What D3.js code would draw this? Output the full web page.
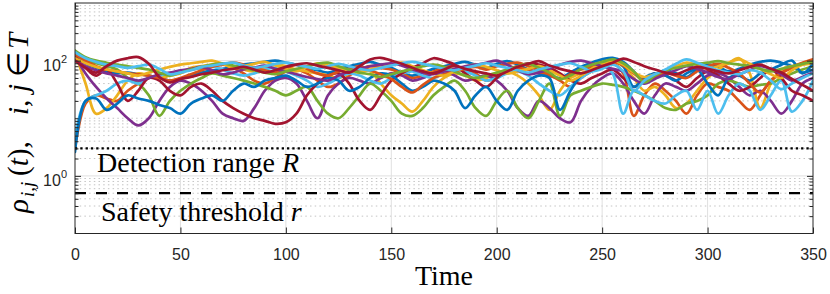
<!DOCTYPE html>
<html>
<head>
<meta charset="utf-8">
<script src="https://cdn.jsdelivr.net/npm/d3@7"></script>
<style>
  body { margin: 0; background: #fff; }
  .tick text { font-family: "Liberation Sans", Arial, sans-serif; }
</style>
</head>
<body>
<svg id="chart" width="830" height="294"></svg>
<script>
// sample times
const time = [0, 5, 10, 15, 20, 25, 30, 35, 40, 45, 50, 55, 60, 65, 70, 75, 80, 85, 90, 95,
  100, 105, 110, 115, 120, 125, 130, 135, 140, 145, 150, 155, 160, 165, 170, 175, 180, 185, 190, 195,
  200, 205, 210, 215, 220, 225, 230, 235, 240, 245, 250, 255, 260, 265, 270, 275, 280, 285, 290, 295,
  300, 305, 310, 315, 320, 325, 330, 335, 340, 345, 350];

// pairwise distances (one array per curve)
const blue1 = [120, 90, 75, 65, 60, 62, 58, 55, 50, 45, 48, 55, 62, 68, 72, 78, 85, 90, 95, 100,
  92, 85, 75, 68, 62, 70, 80, 88, 95, 85, 75, 62, 55, 62, 72, 80, 88, 95, 85, 75,
  88, 98, 85, 70, 62, 55, 50, 62, 78, 92, 105, 112, 95, 65, 45, 55, 68, 60, 52, 70,
  85, 78, 65, 72, 85, 95, 100, 92, 80, 62, 70];
const orange1 = [3, 18, 25, 22, 20, 30, 40, 50, 55, 60, 65, 70, 75, 80, 85, 75, 60, 45, 40, 50,
  65, 70, 60, 45, 35, 40, 55, 70, 80, 75, 70, 60, 50, 55, 65, 75, 80, 70, 60, 45,
  50, 65, 75, 70, 60, 55, 45, 35, 50, 65, 80, 90, 60, 11, 25, 40, 30, 20, 12, 25,
  40, 35, 30, 20, 14, 25, 45, 60, 75, 90, 100];
const yellow1 = [140, 40, 12, 15, 25, 45, 60, 55, 50, 55, 60, 75, 80, 85, 90, 80, 70, 65, 75, 85,
  80, 70, 65, 60, 55, 50, 60, 70, 65, 40, 25, 18, 13, 20, 35, 50, 60, 55, 45, 50,
  60, 65, 55, 40, 25, 14, 30, 50, 60, 70, 85, 95, 80, 50, 30, 35, 25, 15, 18, 30,
  50, 70, 90, 110, 60, 15, 40, 70, 80, 85, 90];
const purple1 = [120, 60, 35, 22, 15, 10, 7.5, 10, 20, 35, 45, 40, 30, 20, 12, 10, 9, 15, 30, 45,
  50, 40, 20, 10, 25, 40, 50, 45, 40, 50, 60, 55, 45, 50, 60, 65, 55, 45, 50, 55,
  45, 30, 15, 11, 20, 15, 10, 8.5, 20, 35, 50, 60, 40, 20, 12, 25, 40, 35, 30, 40,
  55, 60, 50, 35, 25, 30, 20, 12, 20, 40, 50];
const green1 = [130, 100, 90, 80, 70, 50, 40, 25, 11, 20, 30, 40, 50, 60, 55, 50, 45, 40, 35, 30,
  25, 30, 35, 20, 12, 10, 15, 25, 40, 30, 20, 12, 11, 15, 25, 35, 45, 30, 15, 11,
  20, 30, 15, 10, 20, 40, 11, 25, 30, 35, 40, 38, 35, 30, 25, 20, 15, 14, 18, 20,
  25, 40, 45, 40, 35, 38, 40, 50, 60, 70, 80];
const cyan1 = [4.7, 20, 25, 30, 40, 45, 40, 50, 55, 60, 65, 70, 75, 80, 70, 60, 55, 60, 70, 75,
  65, 55, 45, 35, 40, 50, 60, 55, 45, 40, 50, 60, 65, 55, 50, 60, 70, 65, 55, 45,
  50, 60, 65, 55, 40, 30, 25, 35, 50, 65, 80, 60, 12, 30, 25, 20, 18, 25, 30, 14,
  30, 12, 25, 40, 30, 14, 25, 45, 13, 20, 45];
const red1 = [120, 75, 55, 70, 40, 20, 30, 50, 45, 30, 25, 35, 40, 30, 20, 15, 12, 10, 9, 8,
  8.5, 12, 25, 40, 55, 60, 40, 20, 14, 25, 45, 60, 75, 90, 110, 100, 85, 60, 45, 35,
  50, 70, 80, 90, 85, 75, 60, 45, 40, 50, 60, 70, 50, 35, 45, 60, 55, 45, 35, 50,
  65, 55, 40, 30, 35, 50, 70, 50, 30, 25, 20];
const blue2 = [2.6, 20, 22, 14, 18, 25, 22, 20, 17, 15, 12, 18, 22, 25, 20, 30, 40, 35, 45, 50,
  55, 45, 35, 40, 50, 45, 30, 35, 50, 60, 55, 40, 30, 35, 45, 40, 30, 15, 25, 35,
  20, 14, 30, 45, 55, 50, 14, 30, 55, 70, 85, 100, 80, 35, 50, 60, 55, 45, 60, 70,
  40, 25, 50, 55, 45, 60, 70, 85, 100, 60, 90];
const orange2 = [130, 100, 80, 70, 65, 60, 58, 55, 50, 45, 50, 58, 68, 78, 85, 92, 85, 75, 68, 62,
  72, 85, 72, 60, 55, 65, 72, 80, 68, 58, 48, 35, 28, 38, 50, 58, 65, 72, 78, 70,
  80, 88, 92, 80, 68, 58, 48, 58, 70, 78, 88, 95, 82, 60, 45, 50, 62, 55, 50, 65,
  80, 88, 75, 60, 40, 28, 45, 62, 78, 92, 105];
const yellow2 = [110, 90, 78, 70, 65, 60, 55, 62, 70, 78, 85, 90, 95, 100, 88, 75, 80, 88, 95, 82,
  72, 65, 78, 90, 82, 75, 68, 62, 70, 78, 85, 92, 80, 68, 60, 55, 65, 78, 85, 78,
  68, 60, 65, 72, 80, 68, 55, 45, 55, 72, 90, 100, 85, 62, 52, 58, 68, 80, 92, 85,
  72, 80, 92, 105, 88, 72, 58, 50, 68, 85, 92];
const purple2 = [100, 80, 68, 60, 55, 50, 45, 50, 58, 62, 68, 72, 78, 68, 58, 62, 70, 75, 82, 72,
  65, 58, 52, 48, 45, 55, 65, 72, 80, 85, 90, 82, 70, 62, 58, 65, 72, 80, 85, 92,
  100, 85, 68, 58, 62, 72, 85, 95, 100, 90, 80, 72, 65, 48, 40, 48, 58, 68, 80, 72,
  62, 52, 48, 58, 68, 80, 72, 58, 45, 52, 62];
const green2 = [150, 115, 100, 92, 85, 80, 75, 70, 62, 55, 62, 70, 78, 85, 90, 82, 75, 68, 62, 58,
  65, 72, 80, 88, 92, 80, 70, 62, 58, 52, 58, 65, 72, 80, 85, 78, 65, 55, 50, 55,
  62, 70, 80, 88, 75, 62, 48, 55, 72, 85, 95, 105, 90, 65, 42, 55, 68, 75, 82, 88,
  92, 98, 90, 85, 80, 72, 65, 72, 80, 88, 95];
const cyan2 = [140, 110, 95, 85, 80, 75, 80, 85, 72, 58, 62, 68, 78, 82, 88, 92, 82, 75, 80, 88,
  92, 85, 78, 72, 80, 88, 80, 72, 68, 75, 82, 90, 95, 88, 80, 72, 68, 75, 82, 90,
  82, 75, 68, 62, 70, 78, 85, 90, 78, 65, 72, 85, 65, 30, 45, 58, 70, 88, 105, 92,
  78, 68, 62, 58, 68, 62, 45, 32, 40, 50, 60];
const red2 = [100, 75, 62, 80, 100, 110, 115, 88, 52, 42, 48, 52, 58, 62, 68, 72, 78, 70, 62, 68,
  78, 85, 90, 82, 75, 68, 62, 80, 105, 112, 100, 88, 75, 65, 60, 70, 82, 72, 65, 60,
  55, 65, 78, 88, 98, 82, 72, 65, 60, 68, 80, 92, 108, 95, 80, 70, 62, 58, 68, 78,
  72, 65, 60, 68, 78, 85, 72, 62, 48, 38, 30];

const series = [blue1, orange1, yellow1, purple1, green1, cyan1, red1,
  blue2, orange2, yellow2, purple2, green2, cyan2, red2];
const colors = ['#0072BD', '#D95319', '#EDB120', '#7E2F8E', '#77AC30', '#4DBEEE', '#A2142F'];

const xTicks = [0, 50, 100, 150, 200, 250, 300, 350];
const yMajor = [1, 100];
const yExponents = ['0', '2'];
const detectionRange = 3;
const safetyThreshold = 0.5;

let svg = d3.select('#chart');
let plotLeft = 75, plotRight = 813, plotTop = 3, plotBottom = 233.5;

let x = d3.scaleLinear().domain([0, 350]).range([plotLeft, plotRight]);
let y = d3.scaleLog().domain([0.1, 1000]).range([plotBottom, plotTop]);
let yMinor = y.ticks().filter(function (d) { return yMajor.indexOf(d) < 0 && d > 0.1 && d < 1000; });

svg.append('defs').append('clipPath').attr('id', 'plot-clip')
  .append('rect')
  .attr('x', plotLeft).attr('y', plotTop)
  .attr('width', plotRight - plotLeft).attr('height', plotBottom - plotTop);

// grid
let grid = svg.append('g');
grid.selectAll('.minor')
  .data(yMinor)
  .enter().append('line')
  .attr('x1', plotLeft).attr('x2', plotRight)
  .attr('y1', y).attr('y2', y)
  .attr('stroke', '#c4c4c4')
  .attr('stroke-width', 1)
  .attr('stroke-dasharray', '1.5,3.2');
grid.selectAll('.major')
  .data(yMajor)
  .enter().append('line')
  .attr('x1', plotLeft).attr('x2', plotRight)
  .attr('y1', y).attr('y2', y)
  .attr('stroke', '#e0e0e0')
  .attr('stroke-width', 1);
grid.selectAll('.vert')
  .data(xTicks.slice(1, -1))
  .enter().append('line')
  .attr('x1', x).attr('x2', x)
  .attr('y1', plotTop).attr('y2', plotBottom)
  .attr('stroke', '#e0e0e0')
  .attr('stroke-width', 1);

// curves
let line = d3.line()
  .x(function (d, i) { return x(time[i]); })
  .y(function (d) { return y(d); })
  .curve(d3.curveCatmullRom.alpha(0.5));

svg.append('g')
  .attr('clip-path', 'url(#plot-clip)')
  .selectAll('path')
  .data(series)
  .enter().append('path')
  .attr('d', line)
  .attr('fill', 'none')
  .attr('stroke', function (d, i) { return colors[i % colors.length]; })
  .attr('stroke-width', 2.7)
  .attr('stroke-linejoin', 'round')
  .attr('stroke-linecap', 'round');

// detection range and safety threshold
svg.append('line')
  .attr('x1', plotLeft).attr('x2', plotRight)
  .attr('y1', y(detectionRange)).attr('y2', y(detectionRange))
  .attr('stroke', '#000')
  .attr('stroke-width', 2.3)
  .attr('stroke-dasharray', '2.3,3');
svg.append('line')
  .attr('x1', plotLeft).attr('x2', plotRight)
  .attr('y1', y(safetyThreshold)).attr('y2', y(safetyThreshold))
  .attr('stroke', '#000')
  .attr('stroke-width', 2.3)
  .attr('stroke-dasharray', '11,10');

let serif = '"Liberation Serif", "Times New Roman", serif';

let t1 = svg.append('text')
  .attr('x', 97).attr('y', 172)
  .attr('font-family', serif).attr('font-size', 28)
  .text('Detection range ');
t1.append('tspan').attr('font-style', 'italic').text('R');

let t2 = svg.append('text')
  .attr('x', 101).attr('y', 221)
  .attr('font-family', serif).attr('font-size', 28)
  .text('Safety threshold ');
t2.append('tspan').attr('font-style', 'italic').text('r');

// axes
let axisColor = '#262626';

let xAxis = svg.append('g')
  .attr('transform', 'translate(0,' + plotBottom + ')')
  .call(d3.axisBottom(x).tickValues(xTicks).tickSizeInner(-6).tickSizeOuter(0).tickPadding(15));
xAxis.selectAll('text').attr('font-size', 16).attr('fill', axisColor);

svg.append('g')
  .attr('transform', 'translate(0,' + plotTop + ')')
  .call(d3.axisTop(x).tickValues(xTicks).tickSizeInner(-6).tickSizeOuter(0).tickFormat(''));

svg.append('g')
  .attr('transform', 'translate(' + plotLeft + ',0)')
  .call(d3.axisLeft(y).tickValues(yMajor).tickSizeInner(-6).tickSizeOuter(0).tickFormat(''));
svg.append('g')
  .attr('transform', 'translate(' + plotLeft + ',0)')
  .call(d3.axisLeft(y).tickValues(yMinor).tickSizeInner(-3.5).tickSizeOuter(0).tickFormat(''));
svg.append('g')
  .attr('transform', 'translate(' + plotRight + ',0)')
  .call(d3.axisRight(y).tickValues(yMajor).tickSizeInner(-6).tickSizeOuter(0).tickFormat(''));
svg.append('g')
  .attr('transform', 'translate(' + plotRight + ',0)')
  .call(d3.axisRight(y).tickValues(yMinor).tickSizeInner(-3.5).tickSizeOuter(0).tickFormat(''));

svg.selectAll('.domain').remove();
svg.selectAll('.tick line').attr('stroke', axisColor);

svg.append('rect')
  .attr('x', plotLeft).attr('y', plotTop)
  .attr('width', plotRight - plotLeft).attr('height', plotBottom - plotTop)
  .attr('fill', 'none')
  .attr('stroke', axisColor)
  .attr('stroke-width', 1);

// y tick labels 10^k
let yLab = svg.append('g')
  .selectAll('text')
  .data(yMajor)
  .enter().append('text')
  .attr('x', 67)
  .attr('y', function (d) { return y(d) + 10; })
  .attr('text-anchor', 'end')
  .attr('font-family', '"Liberation Sans", Arial, sans-serif')
  .attr('font-size', 16)
  .attr('fill', axisColor)
  .text('10');
yLab.append('tspan')
  .attr('dy', -8)
  .attr('font-size', 11)
  .text(function (d, i) { return yExponents[i]; });

// x label
svg.append('text')
  .attr('x', 444).attr('y', 285)
  .attr('text-anchor', 'middle')
  .attr('font-family', serif).attr('font-size', 28)
  .attr('fill', '#000')
  .text('Time');

// y label: rho_{i,j}(t), i,j in T
let yl = svg.append('text')
  .attr('transform', 'translate(28,0) rotate(-90)')
  .attr('font-family', serif).attr('font-size', 29)
  .attr('fill', '#000');
yl.append('tspan').attr('x', -213).attr('font-style', 'italic').text('ρ');
yl.append('tspan').attr('x', -197).attr('dy', 6).attr('font-size', 19).attr('font-style', 'italic').text('i,j');
yl.append('tspan').attr('x', -176).attr('dy', -6).text('(');
yl.append('tspan').attr('font-style', 'italic').text('t');
yl.append('tspan').text('),');
yl.append('tspan').attr('x', -115).attr('font-style', 'italic').text('i');
yl.append('tspan').text(',');
yl.append('tspan').attr('x', -92).attr('font-style', 'italic').text('j');
yl.append('tspan').attr('x', -77).text('∈');
yl.append('tspan').attr('x', -49).attr('font-style', 'italic').text('T');
</script>
</body>
</html>
